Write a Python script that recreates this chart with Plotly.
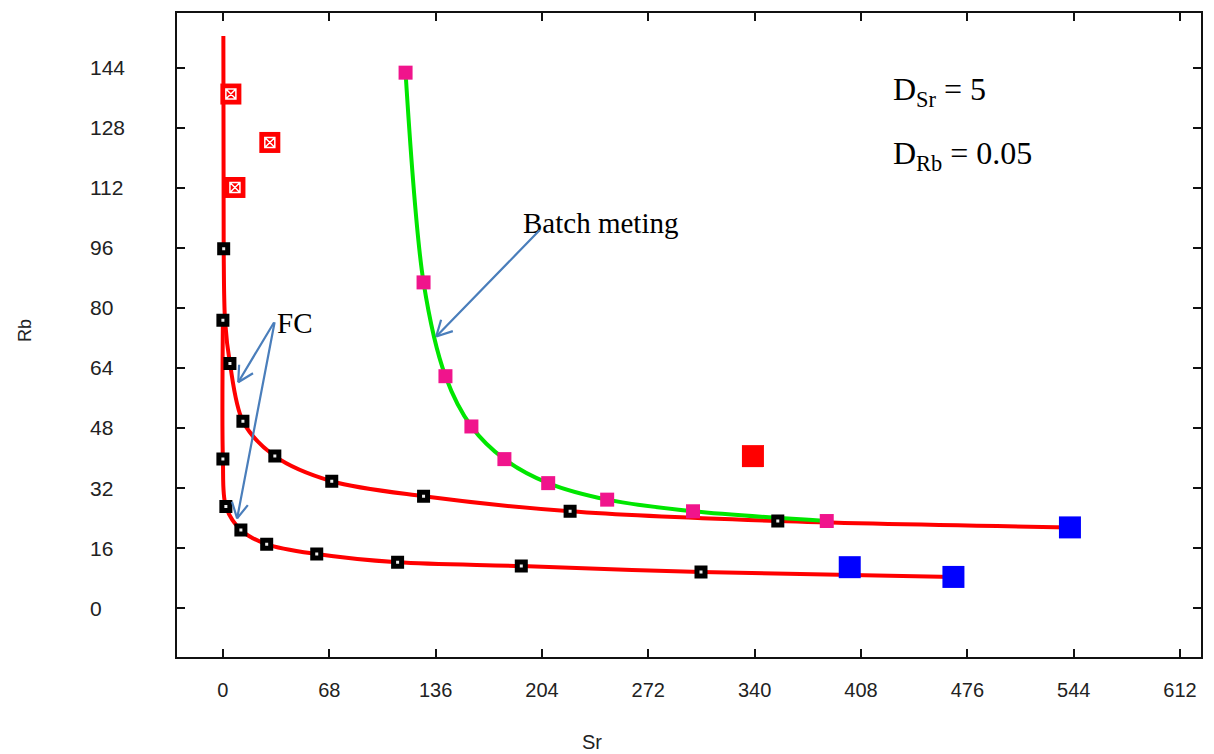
import math
import plotly.graph_objects as go

# ---- data -------------------------------------------------------------
# Fractional crystallisation model, upper trajectory (Sr, Rb)
fc1_curve_sr = [0.3, 0.5, 1.4, 4.5, 12.8, 33.2, 69.6, 128.3, 222.0, 354.8, 541.6]
fc1_curve_rb = [152.5, 95.8, 76.5, 65.2, 49.8, 40.5, 33.8, 29.8, 25.8, 23.2, 21.5]
# Fractional crystallisation model, lower trajectory
fc2_curve_sr = [0.0, 0.0, 1.9, 11.5, 28.0, 60.0, 111.7, 190.8, 305.7, 467.1]
fc2_curve_rb = [76.7, 39.7, 27.1, 20.8, 17.0, 14.4, 12.2, 11.2, 9.6, 8.3]
# Batch melting model
bm_curve_sr = [116.8, 128.3, 142.3, 158.9, 180.0, 208.0, 245.7, 300.6, 386.1]
bm_curve_rb = [142.7, 86.8, 61.8, 48.4, 39.7, 33.3, 28.9, 25.8, 23.2]

# Model steps (black squares)
fc1_pts_sr = [0.5, 4.5, 12.8, 33.2, 69.6, 128.3, 222.0, 354.8]
fc1_pts_rb = [95.8, 65.2, 49.8, 40.5, 33.8, 29.8, 25.8, 23.2]
fc2_pts_sr = [0.0, 0.0, 1.9, 11.5, 28.0, 60.0, 111.7, 190.8, 305.7]
fc2_pts_rb = [76.7, 39.7, 27.1, 20.8, 17.0, 14.4, 12.2, 11.2, 9.6]
# Batch melting steps (pink squares)
bm_pts_sr = [116.8, 128.3, 142.3, 158.9, 180.0, 208.0, 245.7, 300.6, 386.1]
bm_pts_rb = [142.7, 86.8, 61.8, 48.4, 39.7, 33.3, 28.9, 25.8, 23.2]

# Samples
crossed_sr = [5.1, 30.0, 7.7]
crossed_rb = [137.0, 124.1, 112.1]
red_sr = [338.9]
red_rb = [40.5]
blue_sr = [400.8, 467.1, 541.6]
blue_rb = [10.9, 8.3, 21.5]

x_ticks = [0, 68, 136, 204, 272, 340, 408, 476, 544, 612]
y_ticks = [0, 16, 32, 48, 64, 80, 96, 112, 128, 144]

X_RANGE = [-29.35, 625.4]
Y_RANGE = [-13.04, 158.6]
WIDTH, HEIGHT = 1214, 754
MARGIN = dict(l=177, r=11, t=12, b=97)

RED = "#ff0000"
GREEN = "#00e600"
PINK = "#f0148c"
ARROW = "#4a7ebb"

fig = go.Figure()

# model curves
fig.add_trace(go.Scatter(x=fc1_curve_sr, y=fc1_curve_rb, mode="lines",
                         line=dict(color=RED, width=4, shape="spline", smoothing=0.9)))
fig.add_trace(go.Scatter(x=fc2_curve_sr, y=fc2_curve_rb, mode="lines",
                         line=dict(color=RED, width=4, shape="spline", smoothing=0.9)))
fig.add_trace(go.Scatter(x=bm_curve_sr, y=bm_curve_rb, mode="lines",
                         line=dict(color=GREEN, width=4, shape="spline", smoothing=0.9)))

# model steps
for xs, ys in ((fc1_pts_sr, fc1_pts_rb), (fc2_pts_sr, fc2_pts_rb)):
    fig.add_trace(go.Scatter(x=xs, y=ys, mode="markers",
                             marker=dict(symbol="square", size=8, color="#eeeeee",
                                         line=dict(color="black", width=5))))
fig.add_trace(go.Scatter(x=bm_pts_sr, y=bm_pts_rb, mode="markers",
                         marker=dict(symbol="square", size=14, color=PINK, line=dict(width=0))))

# samples
fig.add_trace(go.Scatter(x=crossed_sr, y=crossed_rb, mode="markers",
                         marker=dict(symbol="square", size=21, color=RED, line=dict(width=0))))
fig.add_trace(go.Scatter(x=crossed_sr, y=crossed_rb, mode="markers",
                         marker=dict(symbol="square-x-open", size=10, color="white",
                                     line=dict(color="white", width=1.5))))
fig.add_trace(go.Scatter(x=red_sr, y=red_rb, mode="markers",
                         marker=dict(symbol="square", size=22, color=RED, line=dict(width=0))))
fig.add_trace(go.Scatter(x=blue_sr, y=blue_rb, mode="markers",
                         marker=dict(symbol="square", size=22, color="#0000ff", line=dict(width=0))))

annotations = []
# y tick labels, left aligned
for v in y_ticks:
    annotations.append(dict(x=-0.087, xref="paper", y=v, yref="y", text=str(v),
                            showarrow=False, xanchor="left", yanchor="middle",
                            font=dict(family="Liberation Sans, Arial", size=21, color="#222")))
# axis titles
annotations.append(dict(x=0.405, xref="paper", y=-0.132, yref="paper", text="Sr",
                        showarrow=False, xanchor="center", yanchor="middle",
                        font=dict(family="Liberation Sans, Arial", size=20, color="#222")))
annotations.append(dict(x=-0.148, xref="paper", y=0.507, yref="paper", text="Rb",
                        showarrow=False, xanchor="center", yanchor="middle", textangle=-90,
                        font=dict(family="Liberation Sans, Arial", size=18, color="#222")))
# partition coefficients
big_serif = dict(family="Liberation Serif, Times New Roman", size=32, color="black")
serif = dict(family="Liberation Serif, Times New Roman", size=29, color="black")
annotations.append(dict(x=0.697, xref="paper", y=0.878, yref="paper",
                        text="D<sub>Sr</sub> = 5", showarrow=False,
                        xanchor="left", yanchor="middle", font=big_serif))
annotations.append(dict(x=0.697, xref="paper", y=0.778, yref="paper",
                        text="D<sub>Rb</sub> = 0.05", showarrow=False,
                        xanchor="left", yanchor="middle", font=big_serif))
# labels
annotations.append(dict(x=0.0955, xref="paper", y=0.518, yref="paper", text="FC",
                        showarrow=False, xanchor="left", yanchor="middle", font=serif))
annotations.append(dict(x=0.336, xref="paper", y=0.674, yref="paper", text="Batch meting",
                        showarrow=False, xanchor="left", yanchor="middle", font=serif))

# pointer arrows with open "V" heads: (tip Sr, tip Rb, tail Sr, tail Rb)
pointers = [
    (9.8, 60.2, 33.2, 76.5),
    (9.1, 23.9, 33.2, 76.5),
    (136.4, 72.4, 203.4, 101.1),
]
px_per_x = (WIDTH - MARGIN["l"] - MARGIN["r"]) / (X_RANGE[1] - X_RANGE[0])
px_per_y = (HEIGHT - MARGIN["t"] - MARGIN["b"]) / (Y_RANGE[1] - Y_RANGE[0])
HEAD_LEN, HEAD_ANGLE = 19, math.radians(28)
for tx, ty, sx, sy in pointers:
    dx = (sx - tx) * px_per_x
    dy = -(sy - ty) * px_per_y          # screen y grows downwards
    segs = [(dx, dy)]
    ang = math.atan2(dy, dx)
    for s in (1, -1):
        a = ang + s * HEAD_ANGLE
        segs.append((HEAD_LEN * math.cos(a), HEAD_LEN * math.sin(a)))
    for ox, oy in segs:
        annotations.append(dict(x=tx, y=ty, xref="x", yref="y", ax=ox, ay=oy,
                                axref="pixel", ayref="pixel", text="", showarrow=True,
                                arrowhead=0, arrowwidth=2.2, arrowcolor=ARROW,
                                standoff=0, startstandoff=0))

axis_common = dict(showline=True, linewidth=2, linecolor="#111", mirror="ticks",
                   ticks="inside", ticklen=8, tickwidth=1.5, tickcolor="#111",
                   showgrid=False, zeroline=False)

fig.update_layout(
    width=WIDTH, height=HEIGHT,
    margin=MARGIN,
    paper_bgcolor="white", plot_bgcolor="white",
    showlegend=False,
    annotations=annotations,
    xaxis=dict(range=X_RANGE, tickmode="array", tickvals=x_ticks,
               ticktext=[str(v) for v in x_ticks], ticklabelstandoff=14,
               tickfont=dict(family="Liberation Sans, Arial", size=20, color="#222"),
               **axis_common),
    yaxis=dict(range=Y_RANGE, tickmode="array", tickvals=y_ticks,
               showticklabels=False, **axis_common),
)

fig.write_html("out.html")
